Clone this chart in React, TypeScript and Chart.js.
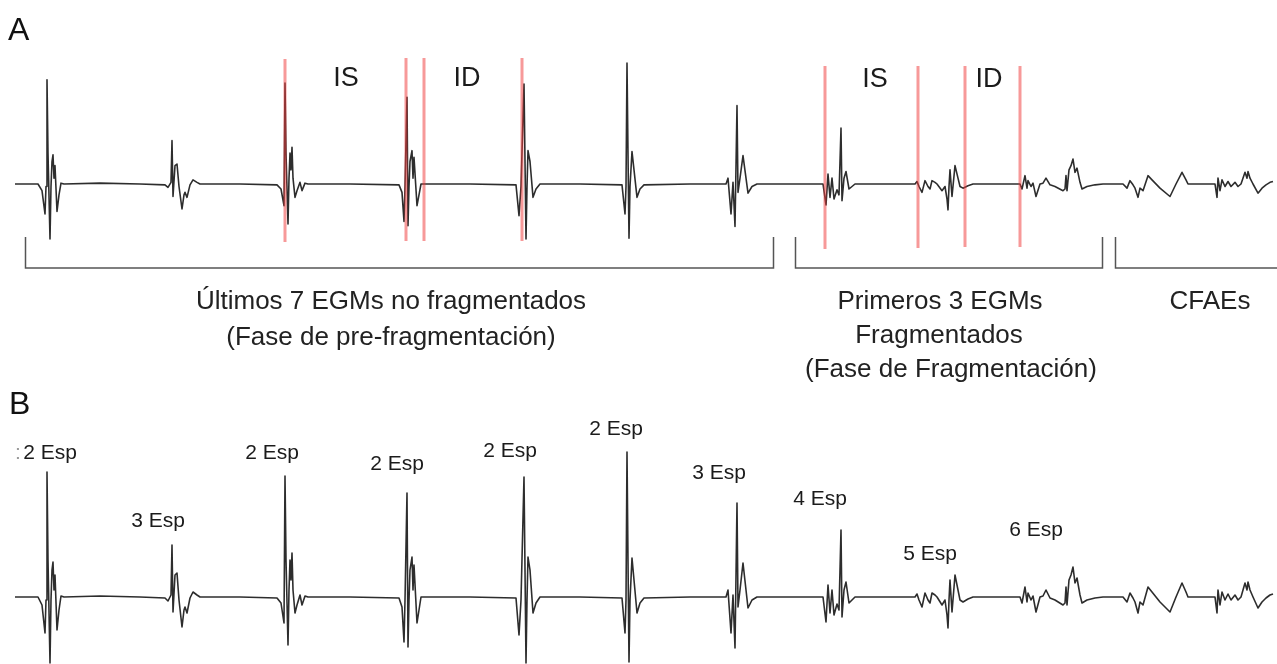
import { useEffect, useRef } from 'react';
import { Chart, registerables } from 'chart.js';

Chart.register(...registerables);

// Bipolar electrogram: time (ms) and amplitude (mV), one sample list per beat group
const egmTimeMs = [
  0, 92, 108, 120, 124, 128, 132, 140, 144, 148, 152, 156, 160, 168, 176, 184, 196, 340, 500,
  600, 612, 624, 628, 632, 640, 648, 656, 668, 676, 680, 688, 700, 712, 728, 740, 900,
  1048, 1064, 1076, 1080, 1084, 1092, 1096, 1100, 1104, 1108, 1112, 1120, 1128, 1140, 1148, 1160, 1172, 1340,
  1536, 1548, 1556, 1560, 1568, 1572, 1576, 1580, 1588, 1592, 1596, 1608, 1616, 1624, 1820,
  2004, 2016, 2024, 2036, 2044, 2048, 2052, 2060, 2072, 2084, 2100, 2260,
  2428, 2440, 2444, 2448, 2452, 2456, 2460, 2468, 2476, 2488, 2500, 2516, 2700,
  2844, 2852, 2864, 2872, 2880, 2888, 2892, 2900, 2912, 2924, 2932, 2948, 2968, 3100,
  3232, 3244, 3252, 3260, 3268, 3276, 3288, 3296, 3304, 3308, 3316, 3324, 3336, 3348, 3360, 3480,
  3600, 3608, 3616, 3628, 3640, 3652, 3660, 3668, 3680, 3688, 3708, 3720, 3728, 3732, 3736, 3740, 3748, 3760, 3772, 3780, 3792, 3812, 3832, 3940,
  4020, 4028, 4040, 4048, 4052, 4064, 4072, 4084, 4100, 4112, 4124, 4140, 4160, 4192, 4200, 4204, 4208, 4216, 4224, 4232, 4240, 4248, 4260, 4268, 4288, 4320, 4352, 4432,
  4448, 4460, 4472, 4480, 4492, 4500, 4512, 4532, 4548, 4580, 4620, 4644, 4668, 4684, 4692, 4800,
  4808, 4812, 4820, 4828, 4840, 4852, 4864, 4880, 4892, 4904, 4920, 4928, 4932, 4940, 4952, 4972, 4988, 5004, 5020, 5032,
];

const egmAmpMv = [
  0, 0, -0.16, -0.72, -0.06, 2.5, 0.74, -1.32, -0.06, 0.54, 0.7, 0.14, 0.44, -0.66, -0.26, 0.02, 0, 0.02, 0,
  -0.02, -0.08, 0.04, 1.04, -0.3, 0.44, 0.48, -0.06, -0.6, -0.26, -0.2, -0.32, -0.02, 0.1, 0.04, 0, 0,
  -0.02, -0.12, -0.52, 2.42, 0.74, -0.96, 0.14, 0.74, 0.34, 0.88, 0.14, -0.32, -0.16, 0.04, -0.16, 0.02, 0, 0,
  -0.02, -0.2, -0.9, -0.06, 2.08, -1.0, -0.06, 0.54, 0.8, 0.14, 0.64, -0.52, -0.26, 0, 0,
  -0.02, -0.76, -0.06, 2.4, -1.32, -0.06, 0.8, 0.54, -0.32, -0.12, 0, 0,
  -0.02, -0.72, -0.06, 2.9, 0.74, -1.3, -0.06, 0.78, 0.34, -0.32, -0.12, -0.02, 0,
  0, 0.14, -0.72, 0.04, -1.02, 1.88, -0.2, 0.14, 0.68, 0.14, -0.22, -0.06, 0, 0,
  0, -0.5, 0.24, -0.32, 0.14, -0.36, -0.14, -0.26, 1.34, -0.4, 0.14, 0.3, -0.12, -0.06, 0, 0,
  0, 0.06, -0.06, -0.2, 0.08, -0.06, -0.12, 0.08, 0.04, 0, -0.16, -0.06, -0.36, -0.62, -0.06, 0.34, -0.3, 0.44, 0.14, -0.06, -0.1, -0.04, 0, 0,
  0, -0.12, 0.2, -0.1, 0.08, -0.06, 0.02, -0.3, 0, 0.02, 0.14, -0.02, -0.06, -0.16, -0.12, 0.2, -0.16, 0.34, 0.44, 0.6, 0.28, 0.38, 0.04, -0.12, -0.06, -0.02, 0, 0,
  -0.1, 0.08, -0.02, -0.1, -0.32, -0.1, -0.16, 0.2, 0.1, -0.1, -0.3, 0, 0.28, 0.1, 0, 0,
  -0.32, 0.14, -0.16, 0.1, -0.06, 0.06, -0.06, 0.04, -0.06, 0, 0.28, 0.14, 0.3, 0.14, 0, -0.22, -0.1, -0.02, 0.04, 0.06,
];

// Interval boundaries marked in panel A (ms)
const markerTimesMs = [1080, 1564, 1636, 2028, 3240, 3612, 3800, 4020];
const intervalLabels = ['IS', 'ID', 'IS', 'ID'];

// Phase brackets (ms) and their captions
const phaseStartMs = [40, 3120, 4400];
const phaseEndMs = [3032, 4348, null];
const phaseCaptions = [
  ['Últimos 7 EGMs no fragmentados', '(Fase de pre-fragmentación)'],
  ['Primeros 3 EGMs', 'Fragmentados', '(Fase de Fragmentación)'],
  ['CFAEs'],
];

// Number of spikes counted per electrogram (panel B)
const espLabels = ['2 Esp', '3 Esp', '2 Esp', '2 Esp', '2 Esp', '2 Esp', '3 Esp', '4 Esp', '5 Esp', '6 Esp'];

const W = 1277;
const H = 664;
const FONT = '"Liberation Sans", Arial, sans-serif';
const INK = '#1b1b1b';

// Layout of the annotations (pixels)
const layout = {
  markerSpan: [
    [59, 242], [58, 241], [58, 241], [58, 241],
    [66, 249], [66, 248], [66, 247], [66, 247],
  ],
  intervalLabelPos: [[346, 86], [467, 86], [875, 87], [989, 87]],
  bracketTop: 237,
  bracketBottom: 268,
  captionCenterXLines: [[391, 391], [940, 939, 951], [1210]],
  captionY: [[302, 338], [302, 336, 370], [302]],
  espPos: [
    [50, 459], [158, 527], [272, 459], [397, 470], [510, 457],
    [616, 435], [719, 479], [820, 505], [930, 560], [1036, 536],
  ],
};

const figurePlugin = {
  id: 'egmFigure',
  afterDatasetsDraw(chart: any) {
    const { ctx } = chart;
    const x = chart.scales.x;
    ctx.save();

    // interval markers over the trace
    ctx.strokeStyle = 'rgba(240, 60, 60, 0.52)';
    ctx.lineWidth = 3;
    markerTimesMs.forEach((t, i) => {
      const px = x.getPixelForValue(t);
      const [top, bottom] = layout.markerSpan[i];
      ctx.beginPath();
      ctx.moveTo(px, top);
      ctx.lineTo(px, bottom);
      ctx.stroke();
    });

    ctx.fillStyle = INK;
    ctx.textAlign = 'center';
    ctx.textBaseline = 'alphabetic';
    ctx.font = `27px ${FONT}`;
    intervalLabels.forEach((lab, i) => {
      const [cx, by] = layout.intervalLabelPos[i];
      ctx.fillText(lab, cx, by);
    });

    // phase brackets
    ctx.strokeStyle = '#555';
    ctx.lineWidth = 1.5;
    phaseStartMs.forEach((t0, i) => {
      const x0 = Math.round(x.getPixelForValue(t0)) + 0.5;
      const t1 = phaseEndMs[i];
      const x1 = t1 == null ? W : Math.round(x.getPixelForValue(t1)) + 0.5;
      ctx.beginPath();
      ctx.moveTo(x0, layout.bracketTop);
      ctx.lineTo(x0, layout.bracketBottom);
      ctx.lineTo(x1, layout.bracketBottom);
      if (t1 != null) ctx.lineTo(x1, layout.bracketTop);
      ctx.stroke();
    });

    ctx.font = `26px ${FONT}`;
    ctx.textBaseline = 'middle';
    ctx.fillStyle = '#222';
    phaseCaptions.forEach((lines, i) => {
      lines.forEach((line, j) => {
        ctx.fillText(line, layout.captionCenterXLines[i][j], layout.captionY[i][j]);
      });
    });

    // panel letters
    ctx.textAlign = 'left';
    ctx.textBaseline = 'alphabetic';
    ctx.fillStyle = '#111';
    ctx.font = `32px ${FONT}`;
    ctx.fillText('A', 8, 40);
    ctx.fillText('B', 9, 414);

    // spike counts
    ctx.textAlign = 'center';
    ctx.font = `21px ${FONT}`;
    ctx.fillStyle = INK;
    espLabels.forEach((lab, i) => {
      const [cx, by] = layout.espPos[i];
      ctx.fillText(lab, cx, by);
    });
    ctx.fillStyle = '#9a9a9a';
    ctx.fillText(':', 18, layout.espPos[0][1]);

    ctx.restore();
  },
};

export default function App() {
  const canvasRef = useRef<HTMLCanvasElement | null>(null);

  useEffect(() => {
    const canvas = canvasRef.current;
    if (!canvas) return;
    const toPoints = () => egmTimeMs.map((t, i) => ({ x: t, y: egmAmpMv[i] }));
    const traceStyle = {
      borderColor: 'rgba(22, 22, 22, 0.9)',
      borderWidth: 1.6,
      pointRadius: 0,
      tension: 0,
      fill: false,
      borderJoinStyle: 'round' as const,
    };
    const chart = new Chart(canvas, {
      type: 'line',
      data: {
        datasets: [
          { label: 'A', data: toPoints(), yAxisID: 'yA', ...traceStyle },
          { label: 'B', data: toPoints(), yAxisID: 'yB', ...traceStyle },
        ],
      },
      options: {
        animation: false,
        responsive: false,
        maintainAspectRatio: false,
        events: [],
        layout: { padding: 0 },
        plugins: { legend: { display: false }, tooltip: { enabled: false } },
        scales: {
          x: { type: 'linear', display: false, min: -60, max: 5048 },
          yA: { type: 'linear', display: false, min: -11.52, max: 4.416 },
          yB: { type: 'linear', display: false, min: -1.34, max: 11.94 },
        },
      },
      plugins: [figurePlugin],
    });
    return () => chart.destroy();
  }, []);

  return (
    <div style={{ position: 'absolute', left: 0, top: 0, width: W, height: H, background: '#fff' }}>
      <canvas ref={canvasRef} width={W} height={H} style={{ display: 'block' }} />
    </div>
  );
}
